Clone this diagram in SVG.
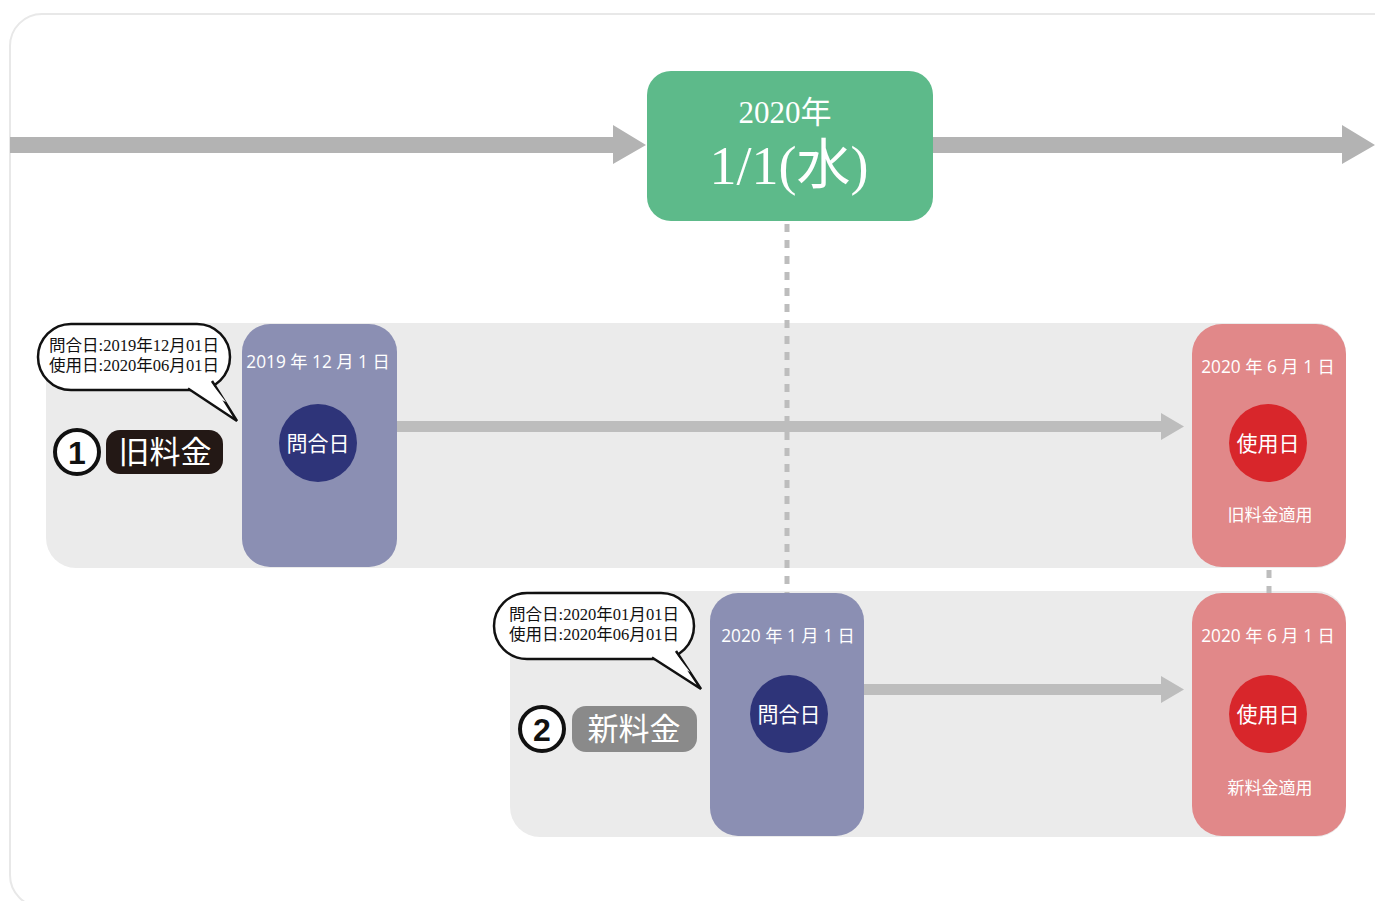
<svg xmlns="http://www.w3.org/2000/svg" width="1375" height="901" viewBox="0 0 1375 901">
<style>
.serif{font-family:"Liberation Serif","Noto Sans CJK JP",serif;fill:#fff;text-anchor:middle}
.sans{font-family:"Noto Sans CJK JP","Noto Sans",sans-serif;fill:#fff;text-anchor:middle}
.band{fill:#ebebeb}
.purple{fill:#8b8fb3}
.red{fill:#e18889}
.navy{fill:#2e3479}
.crimson{fill:#d8262b}
.date{font-size:17.3px;font-family:"Open Sans","Noto Sans CJK JP",sans-serif;fill:#fff;text-anchor:middle}
.circ{font-size:21px}
.dots{stroke:#bdbdbd;stroke-width:5;stroke-dasharray:8 8;fill:none}
.bubble{fill:#fff;stroke:#111;stroke-width:2.5}
.btxt{font-family:"Liberation Serif","Noto Sans CJK JP",serif;font-size:16px;fill:#111}
</style>
<rect x="10" y="14" width="1400" height="893" rx="32" fill="#fff" stroke="#e8e8e8" stroke-width="2"/>

<g id="bands">
<rect class="band" x="46" y="323" width="1300" height="245" rx="30"/>
<rect class="band" x="510" y="591" width="836" height="246" rx="30"/>
</g>

<g id="connectors">
<path d="M10 137 H613 V125 L646 145 L613 164 V153 H10 Z" fill="#b3b3b3"/>
<path d="M933 137 H1342 V125 L1375 145 L1342 164 V153 H933 Z" fill="#b3b3b3"/>
<path d="M397 421 H1161 V413 L1184 426.5 L1161 440 V432 H397 Z" fill="#bdbdbd"/>
<path d="M864 684 H1161 V676 L1184 689.5 L1161 703 V695 H864 Z" fill="#bdbdbd"/>
<line class="dots" x1="787" y1="224" x2="787" y2="596"/>
<line class="dots" x1="1269" y1="570" x2="1269" y2="594"/>
</g>

<g id="date-main">
<rect x="647" y="71" width="286" height="150" rx="24" fill="#5dba8a"/>
<text class="serif" x="785" y="123" font-size="31">2020年</text>
<text class="serif" x="789" y="184" font-size="54">1/1(水)</text>
</g>

<g id="inquiry-old">
<rect class="purple" x="242" y="324" width="155" height="243" rx="28"/>
<text class="date" x="318" y="368">2019 年 12 月 1 日</text>
<circle class="navy" cx="318" cy="443" r="39"/>
<text class="sans circ" x="318" y="451">問合日</text>
</g>

<g id="use-old">
<rect class="red" x="1192" y="324" width="154" height="243" rx="30"/>
<text class="date" x="1268" y="373">2020 年 6 月 1 日</text>
<circle class="crimson" cx="1268" cy="443" r="39"/>
<text class="sans circ" x="1268" y="451">使用日</text>
<text class="sans" x="1270" y="521" font-size="17">旧料金適用</text>
</g>

<g id="inquiry-new">
<rect class="purple" x="710" y="593" width="154" height="243" rx="28"/>
<text class="date" x="788" y="642">2020 年 1 月 1 日</text>
<circle class="navy" cx="789" cy="714" r="39"/>
<text class="sans circ" x="789" y="722">問合日</text>
</g>

<g id="use-new">
<rect class="red" x="1192" y="593" width="154" height="243" rx="30"/>
<text class="date" x="1268" y="642">2020 年 6 月 1 日</text>
<circle class="crimson" cx="1268" cy="714" r="39"/>
<text class="sans circ" x="1268" y="722">使用日</text>
<text class="sans" x="1270" y="794" font-size="17">新料金適用</text>
</g>

<g id="bubble-old">
<rect class="bubble" x="38" y="324" width="192" height="66" rx="33"/>
<polyline class="bubble" points="188,388.5 237,421 212,381"/>
<polygon points="191,386 212,384 226,402" fill="#fff"/>
<text class="btxt" x="49" y="351" textLength="170" lengthAdjust="spacingAndGlyphs">問合日:2019年12月01日</text>
<text class="btxt" x="49" y="371" textLength="170" lengthAdjust="spacingAndGlyphs">使用日:2020年06月01日</text>
</g>

<g id="label-old">
<circle cx="77" cy="452" r="22" fill="#fff" stroke="#111" stroke-width="4"/>
<text x="77" y="464" font-family="Liberation Sans,sans-serif" font-weight="bold" font-size="32" fill="#111" text-anchor="middle">1</text>
<rect x="106" y="430" width="117" height="44" rx="14" fill="#231815"/>
<text class="serif" x="165" y="463" font-size="31">旧料金</text>
</g>

<g id="bubble-new">
<rect class="bubble" x="494" y="593" width="200" height="66" rx="33"/>
<polyline class="bubble" points="652,657.5 701,689 676,651"/>
<polygon points="655,655 676,654 690,672" fill="#fff"/>
<text class="btxt" x="509" y="620" textLength="170" lengthAdjust="spacingAndGlyphs">問合日:2020年01月01日</text>
<text class="btxt" x="509" y="640" textLength="170" lengthAdjust="spacingAndGlyphs">使用日:2020年06月01日</text>
</g>

<g id="label-new">
<circle cx="542" cy="729" r="22" fill="#fff" stroke="#111" stroke-width="4"/>
<text x="542" y="741" font-family="Liberation Sans,sans-serif" font-weight="bold" font-size="32" fill="#111" text-anchor="middle">2</text>
<rect x="572" y="706" width="125" height="46" rx="14" fill="#8a8a8a"/>
<text class="serif" x="634" y="740" font-size="31">新料金</text>
</g>
</svg>
